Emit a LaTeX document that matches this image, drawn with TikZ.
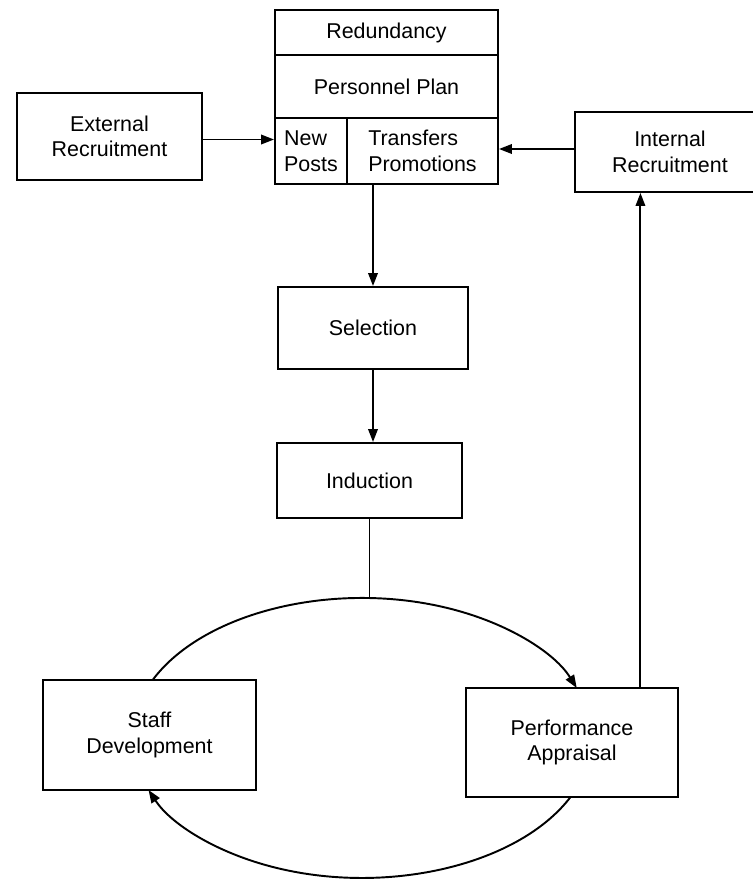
\documentclass[tikz,border=0pt]{standalone}
\usepackage{fontspec}
\setmainfont{Liberation Sans}
\usetikzlibrary{arrows.meta,calc}
\begin{document}
\begin{tikzpicture}[x=0.02cm,y=-0.02cm,
  box/.style={draw, line width=1.1pt, inner sep=0pt, align=center, font=\fontsize{12.2}{14.5}\selectfont},
  arr/.style={line width=1.1pt, -{Triangle[length=2.6mm,width=1.9mm]}},
  con/.style={line width=1.1pt}]
\useasboundingbox (0,0) rectangle (753,879);
\clip (0,0) rectangle (753,879);
% top block
\node[box, minimum width=4.46cm, minimum height=0.9cm] (red) at (386.5,32.5) {Redundancy};
\node[box, minimum width=4.46cm, minimum height=1.26cm] (pp) at (386.5,86.5) {Personnel Plan};
\node[box, align=left, minimum width=1.44cm, minimum height=1.32cm] (np) at (311,151) {New\\Posts};
\node[box, align=left, minimum width=3.02cm, minimum height=1.32cm] (tp) at (422.5,151) {Transfers\\Promotions};
% side boxes
\node[box, minimum width=3.7cm, minimum height=1.74cm] (ext) at (109.5,136.5) {External\\Recruitment};
\node[box, minimum width=3.8cm, minimum height=1.6cm] (int) at (670,152) {Internal\\Recruitment};
% chain
\node[box, minimum width=3.8cm, minimum height=1.64cm] (sel) at (373,328) {Selection};
\node[box, minimum width=3.7cm, minimum height=1.5cm] (ind) at (369.5,480.5) {Induction};
\node[box, minimum width=4.26cm, minimum height=2.2cm] (sd) at (149.5,735) {Staff\\Development};
\node[box, minimum width=4.24cm, minimum height=2.18cm] (perf) at (572,742.5) {Performance\\Appraisal};
% connectors
\coordinate (xa) at ($(ext.east)+(0,3)$);
\draw[arr] (xa) -- (xa -| np.west);
\coordinate (ia) at ($(int.west)+(0,-3)$);
\draw[arr] (ia) -- (ia -| tp.east);
\draw[arr] (sel.north |- tp.south) -- (sel.north);
\draw[arr] (sel.south) -- (sel.south |- ind.north);
\coordinate (etop) at (362,598);
\draw[con] (ind.south) -- (ind.south |- etop);
\coordinate (e1) at (152.7,679.9);
\draw[arr] (e1) arc[start angle=155.5, end angle=20.9, x radius=4.6cm, y radius=2.8cm];
\coordinate (e3) at (570.6,796.9);
\draw[arr] (e3) arc[start angle=-24.9, end angle=-158.2, x radius=4.6cm, y radius=2.8cm];
\coordinate (pa) at ($(perf.north west)!0.82!(perf.north east)$);
\draw[arr] (pa) -- (pa |- int.south);
\end{tikzpicture}
\end{document}
